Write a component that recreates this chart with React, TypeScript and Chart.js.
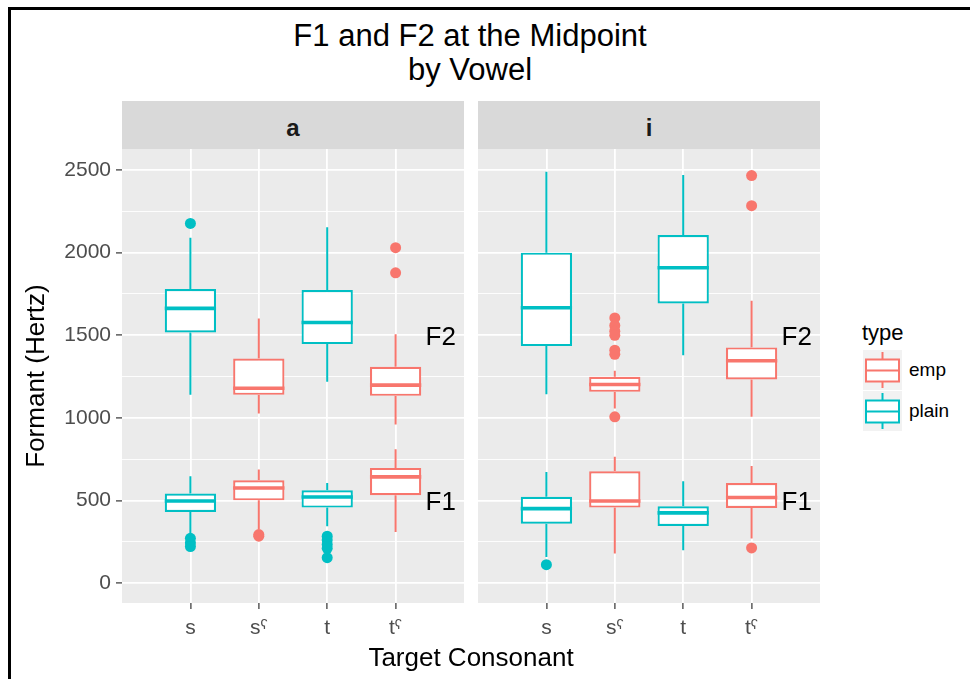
import React, { useEffect, useRef } from 'react';
import { Chart, registerables } from 'chart.js';

Chart.register(...registerables);

const FONT = "'Liberation Sans', Arial, Helvetica, sans-serif";
Chart.defaults.font.family = FONT;

// ---------- data ----------
const categories = ['s', 'sˤ', 't', 'tˤ'];
const categoryType = ['plain', 'emp', 'plain', 'emp'];
const facetLabels = ['a', 'i'];
const legendTypes = ['emp', 'plain'];

// each row: [lower whisker, Q1, median, Q3, upper whisker] for s, sˤ, t, tˤ
const aF2 = [
  [1140, 1517, 1663, 1780, 2090],
  [1027, 1140, 1180, 1360, 1602],
  [1219, 1447, 1578, 1774, 2153],
  [960, 1134, 1199, 1310, 1507],
];
const aF1 = [
  [300, 432, 498, 543, 648],
  [327, 502, 577, 623, 688],
  [345, 458, 522, 563, 607],
  [311, 533, 644, 698, 811],
];
const aF2Outliers = [[2177], [], [], [2030, 1878]];
const aF1Outliers = [[272, 245, 222], [295, 285], [285, 262, 235, 212, 155], []];

const iF2 = [
  [1144, 1435, 1667, 2000, 2490],
  [1057, 1158, 1203, 1249, 1285],
  [1380, 1693, 1909, 2107, 2470],
  [1007, 1233, 1346, 1427, 1709],
];
const iF1 = [
  [159, 361, 452, 523, 674],
  [180, 458, 498, 678, 765],
  [200, 347, 426, 466, 617],
  [271, 456, 519, 607, 710],
];
const iF2Outliers = [[], [1605, 1560, 1525, 1500, 1410, 1385, 1007], [], [2466, 2284]];
const iF1Outliers = [[113], [], [], [214]];

const yMajorTicks = [0, 500, 1000, 1500, 2000, 2500];
const yMinorTicks = [250, 750, 1250, 1750, 2250];
const yMin = -119;
const yMax = 2627;
const xMin = -1;
const xMax = 4;

const annotationLabels = ['F2', 'F1'];
const annotationValues = [1483, 484];
const annotationPosition = 3.66;

// ---------- styles ----------
const EMP = '#F8766D';
const PLAIN = '#00BFC4';
const colorOf = (t: string) => (t === 'emp' ? EMP : PLAIN);
const BOX_FRACTION = 0.75;
const BOX_HALF = BOX_FRACTION / 2;

const panelBg = {
  id: 'panelBg',
  beforeDraw(chart: any) {
    const { ctx, chartArea } = chart;
    ctx.save();
    ctx.fillStyle = '#EBEBEB';
    ctx.fillRect(chartArea.left, chartArea.top, chartArea.width, chartArea.height);
    ctx.restore();
  },
};

const formantLabels = {
  id: 'formantLabels',
  afterDatasetsDraw(chart: any) {
    const { ctx, scales } = chart;
    ctx.save();
    ctx.fillStyle = '#000000';
    ctx.font = `26px ${FONT}`;
    ctx.textAlign = 'center';
    ctx.textBaseline = 'middle';
    annotationLabels.forEach((lab, k) => {
      ctx.fillText(lab, scales.x.getPixelForValue(annotationPosition), scales.y.getPixelForValue(annotationValues[k]));
    });
    ctx.restore();
  },
};

function buildDatasets(f2: number[][], f1: number[][], o2: number[][], o1: number[][]) {
  const boxes: any[] = [];
  const boxColors: string[] = [];
  const whiskers: Record<string, any[]> = { emp: [], plain: [] };
  const medians: Record<string, any[]> = { emp: [], plain: [] };
  const outliers: any[] = [];
  const outColors: string[] = [];
  categories.forEach((_, i) => {
    const t = categoryType[i];
    const groups: [number[], number[]][] = [
      [f2[i], o2[i]],
      [f1[i], o1[i]],
    ];
    groups.forEach(([st, outs]) => {
      const [lo, q1, med, q3, hi] = st;
      boxes.push({ x: i, y: [q1, q3] });
      boxColors.push(colorOf(t));
      whiskers[t].push(
        { x: i, y: lo }, { x: i, y: q1 }, { x: i, y: null },
        { x: i, y: q3 }, { x: i, y: hi }, { x: i, y: null }
      );
      medians[t].push({ x: i - BOX_HALF, y: med }, { x: i + BOX_HALF, y: med }, { x: i, y: null });
      outs.forEach((v) => {
        outliers.push({ x: i, y: v });
        outColors.push(colorOf(t));
      });
    });
  });

  const lineBase = {
    type: 'line',
    pointRadius: 0,
    borderWidth: 2,
    spanGaps: false,
    tension: 0,
    fill: false,
    borderCapStyle: 'butt',
  };

  return [
    ...legendTypes.map((t) => ({ ...lineBase, label: t + ' whisker', data: whiskers[t], borderColor: colorOf(t), order: 4 })),
    {
      type: 'bar',
      label: 'box',
      data: boxes,
      backgroundColor: '#FFFFFF',
      borderColor: boxColors,
      borderWidth: 2.2,
      borderSkipped: false,
      categoryPercentage: BOX_FRACTION,
      barPercentage: 1,
      order: 3,
    },
    ...legendTypes.map((t) => ({ ...lineBase, label: t + ' median', data: medians[t], borderColor: colorOf(t), borderWidth: 3.6, order: 2 })),
    {
      type: 'scatter',
      label: 'outliers',
      data: outliers,
      backgroundColor: outColors,
      borderWidth: 0,
      pointRadius: 5.5,
      order: 1,
    },
  ];
}

function makePanel(
  canvas: HTMLCanvasElement,
  f2: number[][],
  f1: number[][],
  o2: number[][],
  o1: number[][],
  showY: boolean
) {
  return new Chart(canvas, {
    type: 'bar',
    data: { datasets: buildDatasets(f2, f1, o2, o1) as any },
    plugins: [panelBg, formantLabels],
    options: {
      responsive: false,
      animation: false,
      events: [],
      layout: { padding: { left: showY ? 21 : 8, right: 6, top: 149, bottom: 36 } },
      plugins: {
        legend: { display: false },
        tooltip: { enabled: false },
        title: { display: false },
      },
      scales: {
        x: {
          type: 'linear',
          min: xMin,
          max: xMax,
          offset: false,
          afterBuildTicks: (s: any) => {
            s.ticks = categories.map((_, i) => ({ value: i }));
          },
          afterFit: (s: any) => {
            s.height = 40;
          },
          ticks: {
            callback: (v: any) => categories[v] ?? '',
            color: '#4D4D4D',
            font: { size: 21 },
            padding: 7,
            maxRotation: 0,
            autoSkip: false,
          },
          grid: {
            offset: false,
            color: '#FFFFFF',
            lineWidth: 1.8,
            tickLength: 6,
            tickColor: '#333333',
            tickWidth: 1.2,
          },
          border: { display: false },
        },
        y: {
          type: 'linear',
          min: yMin,
          max: yMax,
          afterBuildTicks: (s: any) => {
            s.ticks = [...yMajorTicks, ...yMinorTicks].sort((p, q) => p - q).map((v) => ({ value: v }));
          },
          afterFit: (s: any) => {
            s.width = showY ? 101 : 0;
          },
          ticks: {
            display: showY,
            callback: (v: any) => (yMajorTicks.includes(v) ? String(v) : ''),
            color: '#4D4D4D',
            font: { size: 21 },
            padding: 5,
            autoSkip: false,
          },
          grid: {
            color: '#FFFFFF',
            lineWidth: (ctx: any) => (yMajorTicks.includes(ctx.tick?.value) ? 1.8 : 0.9),
            drawTicks: showY,
            tickLength: 6,
            tickColor: (ctx: any) => (yMajorTicks.includes(ctx.tick?.value) ? '#333333' : 'rgba(0,0,0,0)'),
            tickWidth: 1.2,
          },
          border: { display: false },
          title: {
            display: showY,
            text: 'Formant (Hertz)',
            font: { size: 26 },
            color: '#000000',
            padding: 0,
          },
        },
      },
    } as any,
  });
}

const abs = (o: React.CSSProperties): React.CSSProperties => ({ position: 'absolute', ...o });

export default function App() {
  const refA = useRef<HTMLCanvasElement>(null);
  const refB = useRef<HTMLCanvasElement>(null);

  useEffect(() => {
    const a = makePanel(refA.current!, aF2, aF1, aF2Outliers, aF1Outliers, true);
    const b = makePanel(refB.current!, iF2, iF1, iF2Outliers, iF1Outliers, false);
    return () => {
      a.destroy();
      b.destroy();
    };
  }, []);

  const stripLeft = [122, 478];
  const stripWidth = 342;

  return (
    <div style={abs({ left: 0, top: 0, width: 970, height: 679, background: '#FFFFFF', overflow: 'hidden', fontFamily: FONT })}>
      <div style={abs({ left: 8, top: 7, width: 970, height: 700, borderLeft: '3px solid #000', borderTop: '3px solid #000' })} />
      <div style={abs({ left: 0, top: 19, width: 940, textAlign: 'center', fontSize: 31, lineHeight: '34px', color: '#000' })}>
        F1 and F2 at the Midpoint
        <br />
        by Vowel
      </div>
      {facetLabels.map((f, k) => (
        <div
          key={f}
          style={abs({
            left: stripLeft[k],
            top: 101,
            width: stripWidth,
            height: 48,
            background: '#D9D9D9',
            textAlign: 'center',
            fontSize: 24,
            fontWeight: 'bold',
            lineHeight: '54px',
            color: '#1A1A1A',
          })}
        >
          {f}
        </div>
      ))}
      <canvas ref={refA} width={470} height={679} style={abs({ left: 0, top: 0 })} />
      <canvas ref={refB} width={356} height={679} style={abs({ left: 470, top: 0 })} />
      <div style={abs({ left: 122, top: 642, width: 698, textAlign: 'center', fontSize: 26, lineHeight: '30px', color: '#000' })}>
        Target Consonant
      </div>
      <div style={abs({ left: 862, top: 318, fontSize: 22, lineHeight: '30px', color: '#000' })}>type</div>
      <svg style={abs({ left: 863, top: 350 })} width={39} height={82}>
        {legendTypes.map((t, k) => {
          const y0 = k * 41;
          const c = colorOf(t);
          return (
            <g key={t}>
              <rect x={0} y={y0} width={39} height={40} fill="#F2F2F2" />
              <line x1={19.5} x2={19.5} y1={y0 + 2} y2={y0 + 38} stroke={c} strokeWidth={2} />
              <rect x={3} y={y0 + 9.5} width={33} height={22} fill="#FFFFFF" stroke={c} strokeWidth={2} />
              <line x1={2} x2={37} y1={y0 + 20.5} y2={y0 + 20.5} stroke={c} strokeWidth={2} />
            </g>
          );
        })}
      </svg>
      {legendTypes.map((t, k) => (
        <div key={t} style={abs({ left: 909, top: 358 + k * 41, fontSize: 19, lineHeight: '24px', color: '#000' })}>
          {t}
        </div>
      ))}
    </div>
  );
}
